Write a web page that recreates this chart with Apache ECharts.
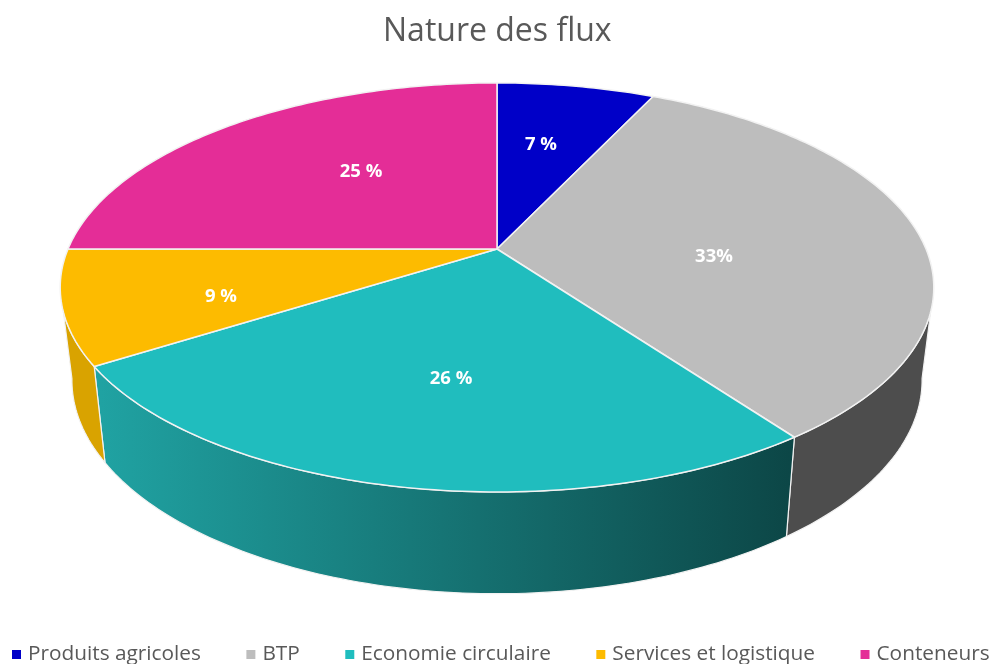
<!DOCTYPE html>
<html>
<head>
<meta charset="utf-8">
<style>
html, body { margin: 0; padding: 0; background: #fff; }
#chart { width: 998px; height: 664px; }
</style>
<script src="https://cdn.jsdelivr.net/npm/echarts@6/dist/echarts.min.js"></script>
</head>
<body>
<div id="chart"></div>
<script>
// Nature des flux
var categories = ['Produits agricoles', 'BTP', 'Economie circulaire', 'Services et logistique', 'Conteneurs'];
var values = [7, 33, 26, 9, 25];
var valueLabels = ['7 %', '33%', '26 %', '9 %', '25 %'];

var topColors = ['#0000c8', '#bdbdbd', '#20bdbe', '#fdbb00', '#e42d97'];
var wallColors = ['#00006e', '#4d4d4d', null, '#d9a300', '#7d1853'];
var labelAt = [[541, 145], [714, 257], [451, 379], [221, 297], [361, 172]];

// perspective disc: top face and the lower rim of the wall
var cx = 497;
var persp = 0.188;
var topRing = { y: 249, rx: 429, ry: 197.3 };
var bottomRing = { y: 340, rx: 417.5, ry: 206 };
// outline of the wall, degrees clockwise from 12 o'clock
var topVisible = [107.5, 252.5];
var bottomVisible = [100.4, 259.6];

var total = values.reduce(function (a, b) { return a + b; }, 0);

function project(ring, deg) {
    var t = deg * Math.PI / 180;
    var X = Math.sin(t), Y = -Math.cos(t);
    var w = 1 - persp * Y;
    return [cx + ring.rx * X / w, ring.y + ring.ry * Y / w];
}

function arc(ring, from, to) {
    var pts = [];
    var n = Math.max(1, Math.ceil(Math.abs(to - from)));
    for (var i = 0; i <= n; i++) {
        pts.push(project(ring, from + (to - from) * i / n));
    }
    return pts;
}

function renderSlice(params, api) {
    var i = params.seriesIndex;
    var before = values.slice(0, i).reduce(function (a, b) { return a + b; }, 0);
    var start = before / total * 360;
    var end = start + api.value(0) / total * 360;
    var children = [];

    var t0 = Math.max(start, topVisible[0]), t1 = Math.min(end, topVisible[1]);
    var b0 = Math.max(start, bottomVisible[0]), b1 = Math.min(end, bottomVisible[1]);
    if (t1 > t0 || b1 > b0) {
        var fill = wallColors[i];
        if (!fill) {
            fill = new echarts.graphic.LinearGradient(0, 0, 1, 0, [
                { offset: 0, color: '#20a3a3' },
                { offset: 1, color: '#0c4646' }
            ]);
        }
        children.push({
            type: 'polygon',
            z2: 1,
            shape: { points: arc(topRing, t0, t1).concat(arc(bottomRing, b1, b0)) },
            style: { fill: fill, stroke: '#f2f2f2', lineWidth: 1.2 }
        });
    }

    children.push({
        type: 'polygon',
        z2: 2,
        shape: { points: [[cx, topRing.y]].concat(arc(topRing, start, end)) },
        style: { fill: topColors[i], stroke: '#f2f2f2', lineWidth: 1.5, lineJoin: 'round' }
    });
    children.push({
        type: 'text',
        z2: 3,
        style: {
            text: valueLabels[i],
            x: labelAt[i][0],
            y: labelAt[i][1],
            align: 'center',
            verticalAlign: 'middle',
            fill: '#fff',
            font: 'bold 18.5px "Open Sans"'
        }
    });
    return { type: 'group', children: children };
}

var myChart = echarts.init(document.getElementById('chart'), null, { renderer: 'canvas' });

myChart.setOption({
    animation: false,
    color: topColors,
    title: {
        text: 'Nature des flux',
        left: 378,
        top: 11,
        textStyle: {
            color: '#595959',
            fontFamily: 'Open Sans',
            fontSize: 32,
            fontWeight: 'normal'
        }
    },
    legend: {
        data: categories,
        left: 7,
        top: 639,
        icon: 'rect',
        itemWidth: 9,
        itemHeight: 9,
        itemGap: 45.5,
        textStyle: {
            color: '#595959',
            fontFamily: 'Open Sans',
            fontSize: 20.8,
            padding: [0, 0, 0, 2]
        },
        selectedMode: false
    },
    series: categories.map(function (name, i) {
        return {
            type: 'custom',
            name: name,
            coordinateSystem: 'none',
            silent: true,
            itemStyle: { color: topColors[i] },
            data: [[values[i]]],
            renderItem: renderSlice
        };
    })
});
</script>
</body>
</html>
